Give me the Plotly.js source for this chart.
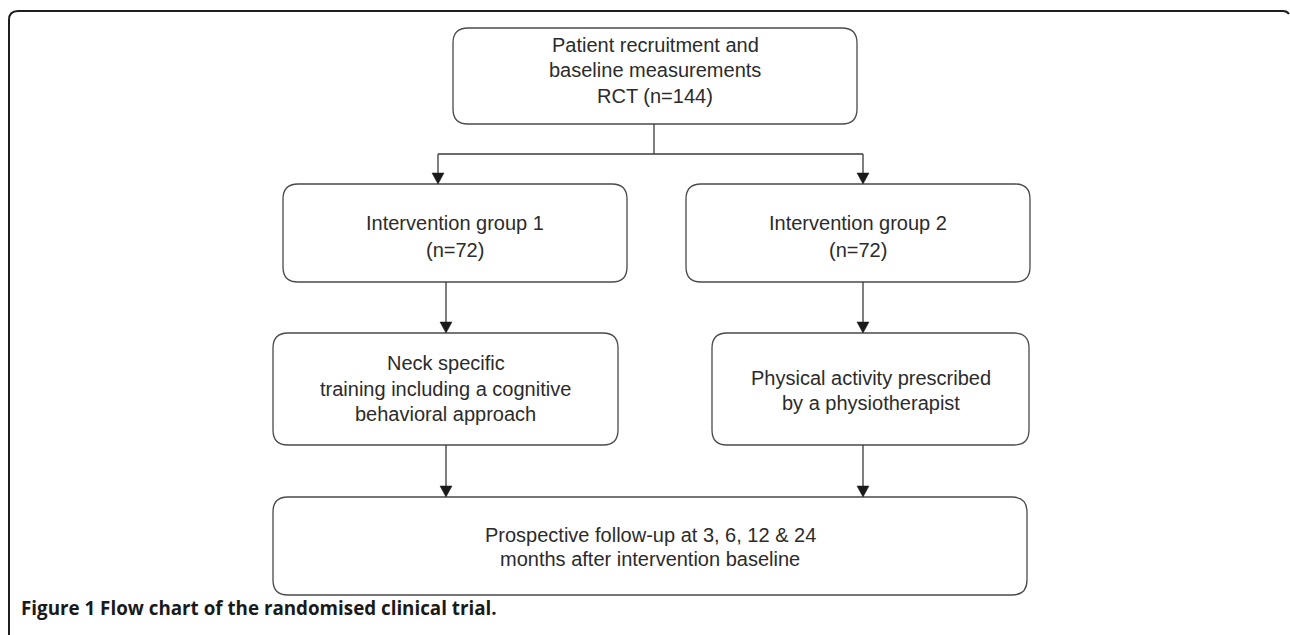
<!DOCTYPE html>
<html><head><meta charset="utf-8">
<script src="https://cdn.plot.ly/plotly-3.0.1.min.js"></script>
<style>html,body{margin:0;padding:0;background:#fff;}#chart{width:1290px;height:635px;}</style>
</head><body><div id="chart"></div>
<script>
// Node labels (flow chart content)
const nodeIds = ["recruit", "group1", "group2", "train1", "train2", "followup"];
const nodeLabels = [
  ["Patient recruitment and", "baseline measurements", "RCT (n=144)"],
  ["Intervention group 1", "(n=72)"],
  ["Intervention group 2", "(n=72)"],
  ["Neck specific", "training including a cognitive", "behavioral approach"],
  ["Physical activity prescribed", "by a physiotherapist"],
  ["Prospective follow-up at 3, 6, 12 & 24", "months after intervention baseline"]
];
const edgesFrom = ["recruit", "recruit", "group1", "group2", "train1", "train2"];
const edgesTo   = ["group1", "group2", "train1", "train2", "followup", "followup"];
const captionBold = "Figure 1";
const captionText = "Flow chart of the randomised clinical trial.";

// Layout geometry (pixel coordinates)
const boxes = {
  recruit:  {x0: 453, x1: 857,  y0: 28,  y1: 124, lines: [45, 70, 96]},
  group1:   {x0: 283, x1: 627,  y0: 184, y1: 282, lines: [223, 250]},
  group2:   {x0: 686, x1: 1030, y0: 184, y1: 282, lines: [223, 250]},
  train1:   {x0: 273, x1: 618,  y0: 333, y1: 445, lines: [363, 389, 414]},
  train2:   {x0: 712, x1: 1029, y0: 333, y1: 445, lines: [378, 403]},
  followup: {x0: 273, x1: 1027, y0: 497, y1: 595, lines: [535, 559]}
};
const arrowX = {group1: 438, group2: 863, train1: 446, train2: 863, followup1: 446, followup2: 863};

function rrect(b, r) {
  const {x0, x1, y0, y1} = b;
  return `M ${x0+r},${y0} L ${x1-r},${y0} Q ${x1},${y0} ${x1},${y0+r} L ${x1},${y1-r} Q ${x1},${y1} ${x1-r},${y1} L ${x0+r},${y1} Q ${x0},${y1} ${x0},${y1-r} L ${x0},${y0+r} Q ${x0},${y0} ${x0+r},${y0} Z`;
}

const shapes = [];
const annotations = [];
const lineC = "#3a3a3a";

// outer frame
shapes.push({type: "path", path: "M 9,640 L 9,20 Q 9,11 18,11 L 1283,11 Q 1287,11 1289,14",
  line: {color: "#1e1e1e", width: 2}});

nodeIds.forEach((id, i) => {
  const b = boxes[id];
  shapes.push({type: "path", path: rrect(b, 15), line: {color: "#4a4a4a", width: 1.3}, fillcolor: "rgba(0,0,0,0)"});
  nodeLabels[i].forEach((t, j) => {
    annotations.push({x: (b.x0 + b.x1) / 2, y: b.lines[j], xref: "x", yref: "y",
      text: t, showarrow: false, xanchor: "center", yanchor: "middle",
      font: {family: "Liberation Sans", size: 20, color: "#2b2b2b"}});
  });
});

function arrow(x, yStart, yEnd) {
  shapes.push({type: "line", x0: x, x1: x, y0: yStart, y1: yEnd - 9, line: {color: lineC, width: 1.3}});
  shapes.push({type: "path", path: `M ${x-6},${yEnd-11} L ${x+6},${yEnd-11} L ${x},${yEnd} Z`,
    fillcolor: "#1a1a1a", line: {color: "#1a1a1a", width: 0.5}});
}

// split connector from recruitment box
const stemX = 654, splitY = 154;
shapes.push({type: "line", x0: stemX, x1: stemX, y0: boxes.recruit.y1, y1: splitY, line: {color: lineC, width: 1.3}});
shapes.push({type: "line", x0: arrowX.group1, x1: arrowX.group2, y0: splitY, y1: splitY, line: {color: lineC, width: 1.3}});

edgesFrom.forEach((f, i) => {
  const t = edgesTo[i];
  let x, ys;
  if (f === "recruit") { x = arrowX[t]; ys = splitY; }
  else if (t === "followup") { x = f === "train1" ? arrowX.followup1 : arrowX.followup2; ys = boxes[f].y1; }
  else { x = arrowX[t]; ys = boxes[f].y1; }
  arrow(x, ys, boxes[t].y0);
});

annotations.push({x: 19, y: 608, xref: "x", yref: "y", xanchor: "left", yanchor: "middle", showarrow: false,
  text: "<b>" + captionBold + " " + captionText + "</b>",
  font: {family: "Open Sans", size: 18.8, color: "#1a1a1a"}});

Plotly.newPlot("chart", [], {
  width: 1290, height: 635,
  margin: {l: 0, r: 0, t: 0, b: 0},
  paper_bgcolor: "#fff", plot_bgcolor: "#fff",
  xaxis: {range: [0, 1290], visible: false, fixedrange: true},
  yaxis: {range: [635, 0], visible: false, fixedrange: true},
  shapes: shapes, annotations: annotations, showlegend: false
}, {staticPlot: true});
</script></body></html>
